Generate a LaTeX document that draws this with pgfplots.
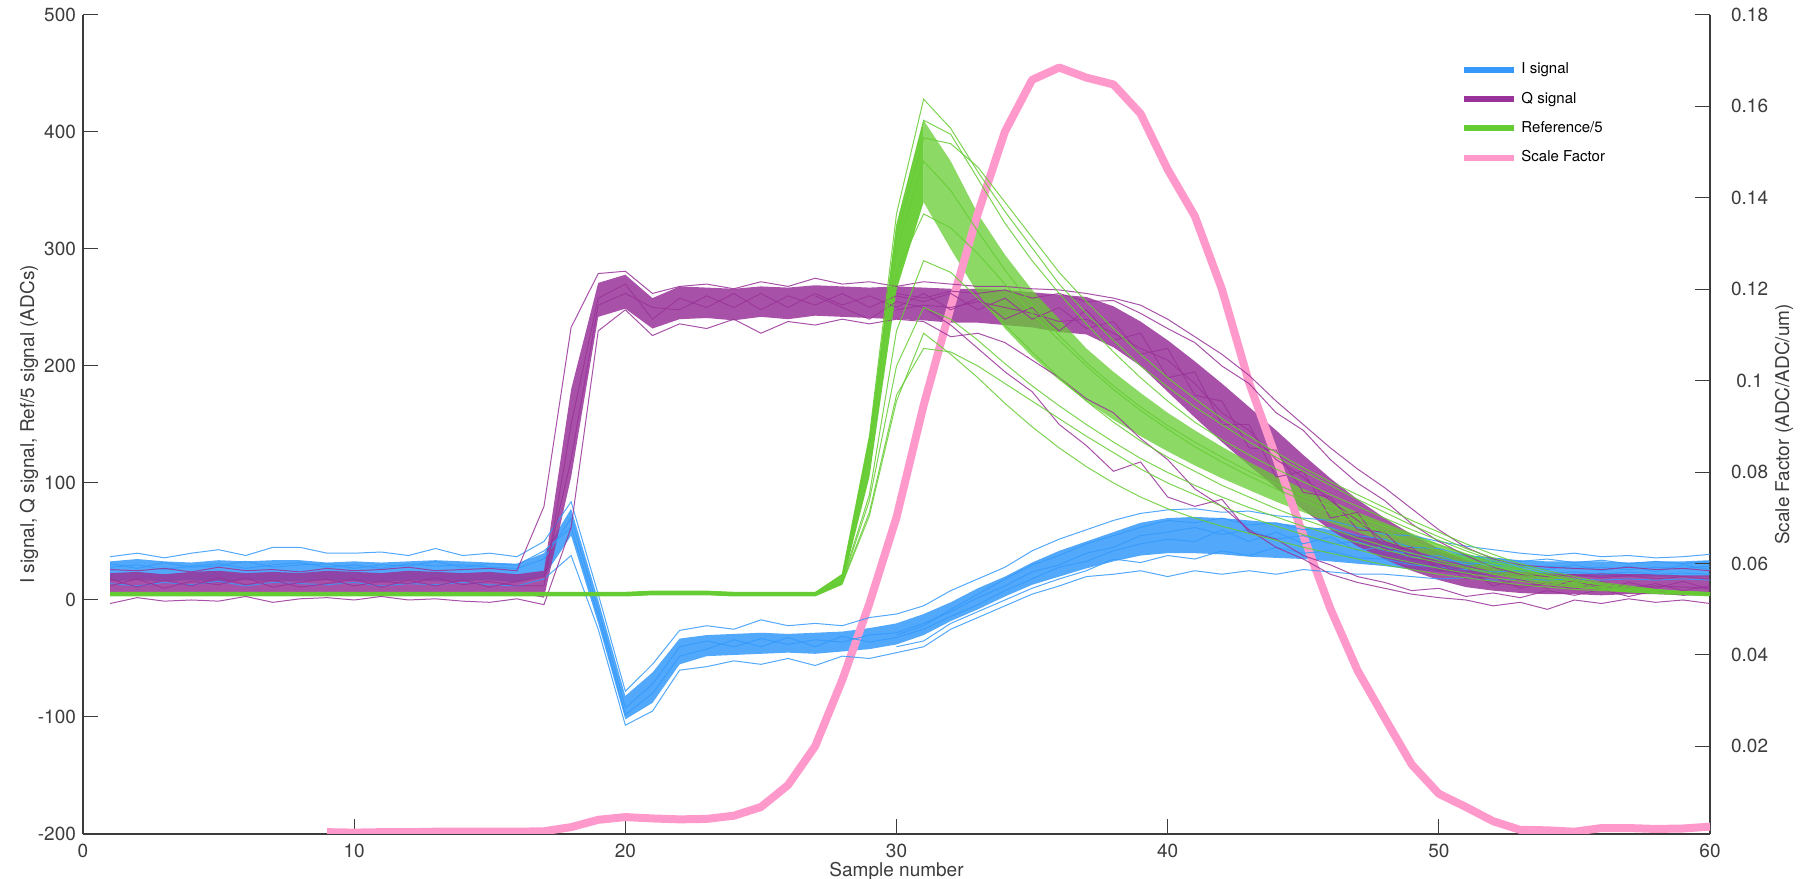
\documentclass[border=0pt]{standalone}
\usepackage{fontspec}
\setmainfont{TeX Gyre Heros}
\usepackage{pgfplots}
\usepackage{pgfplotstable}
\pgfplotsset{compat=1.18}
\usepgfplotslibrary{fillbetween}
\definecolor{Iblue}{RGB}{52,153,250}
\definecolor{Qpurple}{RGB}{153,51,153}
\definecolor{Rgreen}{RGB}{102,204,51}
\definecolor{Spink}{RGB}{255,153,204}
\definecolor{axgray}{RGB}{60,60,60}

\pgfplotstableread{
x lo hi a b c d
1 16 33 37 14 28 31
2 17 35 40 12 30 27
3 16 33 36 15 26 32
4 17 32 40 13 29 28
5 15 34 43 16 31 29
6 17 33 38 12 27 33
7 16 34 45 15 30 28
8 16 34 45 14 32 30
9 17 32 40 13 28 31
10 16 33 40 15 30 27
11 15 32 41 12 27 30
12 17 33 38 14 31 29
13 16 34 44 13 29 33
14 16 33 38 15 30 28
15 17 32 40 13 28 31
16 15 31 37 12 27 30
17 20 40 50 18 35 42
18 55 78 84 38 70 62
19 -20 0 5 -25 -8 -14
20 -102 -82 -78 -107 -92 -98
21 -88 -62 -55 -95 -72 -80
22 -55 -33 -26 -60 -40 -48
23 -48 -30 -22 -57 -35 -42
24 -47 -29 -25 -52 -40 -34
25 -46 -28 -17 -55 -33 -40
26 -45 -29 -22 -50 -38 -32
27 -46 -28 -20 -56 -34 -40
28 -44 -27 -22 -48 -36 -31
29 -42 -24 -15 -50 -30 -36
30 -38 -20 -12 -45 -28 -32
31 -30 -12 -5 -40 -20 -25
32 -18 -2 8 -25 -10 -14
33 -8 10 18 -15 2 -4
34 3 20 28 -5 12 8
35 13 32 42 5 24 18
36 20 42 52 12 30 28
37 27 50 60 20 40 33
38 33 58 68 22 45 42
39 38 66 74 25 55 48
40 40 70 77 20 58 52
41 40 71 78 25 62 50
42 39 70 75 22 56 60
43 37 68 76 25 60 50
44 36 66 72 22 52 58
45 35 63 70 26 55 48
46 33 60 68 24 48 54
47 31 56 62 22 50 42
48 29 51 56 22 42 46
49 26 46 55 20 40 36
50 24 42 50 18 35 38
51 22 38 46 19 32 30
52 21 36 43 17 30 33
53 20 34 40 18 28 30
54 20 33 38 17 29 26
55 20 33 40 18 27 30
56 20 33 37 17 28 25
57 20 32 38 18 26 29
58 20 33 36 17 28 24
59 20 33 37 18 27 30
60 20 34 39 17 29 26
}\Idata

\pgfplotstableread{
x lo hi a b c d
1 6 23 26 -3 12 18
2 5 24 25 2 18 11
3 7 22 27 -1 10 17
4 5 24 24 0 16 12
5 6 25 28 -1 13 19
6 7 23 25 3 19 13
7 5 24 26 -2 11 17
8 6 23 24 1 15 11
9 7 25 27 2 18 14
10 6 24 25 0 12 18
11 5 23 26 3 16 11
12 7 25 28 0 14 17
13 6 24 25 1 19 12
14 6 23 26 -1 13 17
15 5 24 27 -2 16 11
16 6 22 25 1 12 16
17 2 25 80 -4 12 20
18 105 180 233 62 150 120
19 242 271 279 230 258 252
20 249 278 281 248 270 262
21 232 258 262 226 240 250
22 240 268 268 236 258 248
23 241 267 270 232 250 260
24 239 266 266 240 262 250
25 242 268 272 228 248 262
26 240 267 268 238 260 250
27 243 269 275 235 252 262
28 242 268 270 240 262 252
29 241 267 272 236 250 260
30 240 268 268 240 260 250
31 239 267 272 238 255 262
32 237 266 270 225 262 248
33 237 266 268 228 248 258
34 235 265 268 220 258 240
35 233 263 266 205 240 250
36 229 261 265 190 250 230
37 227 259 262 172 232 248
38 216 251 258 160 238 222
39 200 238 252 138 210 228
40 178 222 240 120 215 190
41 156 204 225 95 175 195
42 135 185 210 80 170 150
43 115 165 192 60 130 150
44 96 145 170 45 128 105
45 77 124 150 35 92 110
46 60 104 130 22 88 70
47 46 86 112 15 60 75
48 35 70 96 10 58 42
49 25 56 78 5 35 45
50 17 44 60 2 32 25
51 11 34 45 0 18 28
52 8 27 35 -5 20 12
53 6 24 30 -2 10 18
54 5 23 28 -8 15 10
55 5 22 27 0 9 17
56 4 23 26 -3 16 9
57 5 22 28 1 10 15
58 5 22 26 -2 14 10
59 4 21 27 0 8 16
60 4 21 25 -3 12 9
}\Qdata

\pgfplotstableread{
x lo hi a b c d e f g h i
1 3 7 6 4 5 5 6 5 5 6 4
2 3 7 6 4 5 5 6 5 5 6 4
3 3 7 6 4 5 5 6 5 5 6 4
4 3 7 6 4 5 5 6 5 5 6 4
5 3 7 6 4 5 5 6 5 5 6 4
6 3 7 6 4 5 5 6 5 5 6 4
7 3 7 6 4 5 5 6 5 5 6 4
8 3 7 6 4 5 5 6 5 5 6 4
9 3 7 6 4 5 5 6 5 5 6 4
10 3 7 6 4 5 5 6 5 5 6 4
11 3 7 6 4 5 5 6 5 5 6 4
12 3 7 6 4 5 5 6 5 5 6 4
13 3 7 6 4 5 5 6 5 5 6 4
14 3 7 6 4 5 5 6 5 5 6 4
15 3 7 6 4 5 5 6 5 5 6 4
16 3 7 6 4 5 5 6 5 5 6 4
17 3 7 6 4 5 5 6 5 5 6 4
18 3 7 6 4 5 5 6 5 5 6 4
19 3 7 6 4 5 5 6 5 5 6 4
20 3 7 6 4 5 5 6 5 5 6 4
21 4 8 7 5 6 6 7 6 6 7 5
22 4 8 7 5 6 6 7 6 6 7 5
23 4 8 7 5 6 6 7 6 6 7 5
24 3 7 6 4 5 5 6 5 5 6 4
25 3 7 6 4 5 5 6 5 5 6 4
26 3 7 6 4 5 5 6 5 5 6 4
27 3 7 6 4 5 5 6 5 5 6 4
28 13 22 22 14 15 16 20 18 17 21 15
29 105 140 140 72 75 90 130 120 110 135 85
30 265 320 330 170 175 230 310 300 280 320 200
31 340 410 428 228 215 290 395 375 330 410 250
32 300 375 403 210 212 280 390 350 318 398 240
33 262 330 366 190 200 258 370 315 296 360 222
34 232 295 332 168 185 235 340 282 270 322 202
35 208 265 301 148 170 212 310 252 245 290 183
36 188 240 270 130 155 190 280 226 222 262 166
37 170 215 245 114 140 170 255 203 200 236 150
38 154 195 222 100 126 152 232 183 180 212 135
39 140 177 200 88 112 136 210 165 162 190 121
40 127 160 182 78 100 122 190 149 146 170 109
41 115 145 165 70 90 110 172 135 131 152 98
42 104 131 150 63 80 98 155 122 118 137 88
43 94 118 135 57 71 88 140 110 106 124 79
44 84 106 122 51 63 78 126 99 95 112 71
45 75 95 110 45 56 69 113 89 85 101 63
46 66 85 98 40 49 61 101 80 75 90 56
47 58 75 86 35 43 53 90 71 66 80 49
48 50 66 75 30 37 46 79 63 58 70 43
49 43 57 64 26 32 40 68 55 50 60 37
50 36 48 54 22 27 34 58 47 42 51 32
51 30 40 44 19 23 28 48 39 35 42 27
52 24 33 36 16 19 23 39 32 29 34 22
53 19 27 29 13 16 19 31 26 23 27 18
54 15 22 23 11 13 15 25 21 18 21 14
55 12 17 18 9 11 12 20 16 14 17 11
56 9 14 14 8 9 10 15 13 11 13 9
57 7 11 11 7 7 8 12 10 9 10 7
58 5 9 9 6 6 7 9 8 7 8 6
59 4 8 7 5 5 6 7 7 6 7 5
60 3 7 6 4 4 5 6 6 5 6 4
}\Rdata

\pgfplotstableread{
x s
9 0.0012
10 0.0011
11 0.0012
12 0.0012
13 0.0013
14 0.0013
15 0.0013
16 0.0013
17 0.0014
18 0.0023
19 0.0039
20 0.0045
21 0.0042
22 0.0040
23 0.0041
24 0.0048
25 0.0067
26 0.0115
27 0.0200
28 0.0345
29 0.0512
30 0.0701
31 0.0946
32 0.1161
33 0.1366
34 0.1545
35 0.1658
36 0.1685
37 0.1663
38 0.1648
39 0.1584
40 0.1462
41 0.1360
42 0.1200
43 0.0996
44 0.0831
45 0.0661
46 0.0501
47 0.0366
48 0.0262
49 0.0160
50 0.0096
51 0.0067
52 0.0036
53 0.0017
54 0.0016
55 0.0013
56 0.0021
57 0.0021
58 0.0019
59 0.0020
60 0.0024
}\Sdata

\pgfplotsset{
  myaxis/.style={
    scale only axis, width=813.5pt, height=409.5pt,
    xmin=0, xmax=60,
    tick align=inside,
    major tick length=7.5pt,
    every tick/.style={axgray, line width=0.5pt},
    axis line style={axgray, line width=0.8pt},
    tick label style={font=\fontsize{9.5}{11}\selectfont, text=axgray},
    label style={font=\fontsize{9.5}{11}\selectfont, text=axgray},
    /pgf/number format/assume math mode=true,
  },
  tr/.style={line width=0.5pt, opacity=0.85, forget plot},
}

\begin{document}
\begin{tikzpicture}
% right axis: scale factor (drawn first, underneath)
\begin{axis}[myaxis, name=raxis,
  ymin=0.0008, ymax=0.18,
  axis x line=none, axis y line*=right,
  ytick={0.02,0.04,0.06,0.08,0.1,0.12,0.14,0.16,0.18},
  yticklabel style={/pgf/number format/fixed, /pgf/number format/precision=2, anchor=center, xshift=19.8pt},
  ylabel={Scale Factor (ADC/ADC/um)},
  ylabel style={at={(axis description cs:1.0455,0.5)}, anchor=center},
]
\addplot[Spink, line width=4pt, line join=round] table[x=x,y=s]{\Sdata};
\end{axis}
% left axis: signals
\begin{axis}[myaxis, name=laxis,
  ymin=-200, ymax=500,
  axis x line*=bottom, axis y line*=left,
  xtick={0,10,20,30,40,50,60},
  ytick={-200,-100,0,100,200,300,400,500},
  xticklabel style={yshift=-1.5pt},
  xlabel={Sample number},
  xlabel style={at={(axis description cs:0.5,-0.046)}, anchor=center},
  ylabel={I signal, Q signal, Ref/5 signal (ADCs)},
  ylabel style={at={(axis description cs:-0.0332,0.5)}, anchor=center},
  legend style={at={(0.847,0.947)}, anchor=north west, draw=none, fill=none, inner sep=0pt,
    font=\fontsize{7.5}{9}\selectfont, row sep=3.6pt, cells={anchor=west}},
  legend image code/.code={\draw[#1, line width=3pt] (0pt,0pt) -- (25pt,0pt);},
]
% I signal
\addplot[draw=none, name path=Ilo, forget plot] table[x=x,y=lo]{\Idata};
\addplot[draw=none, name path=Ihi, forget plot] table[x=x,y=hi]{\Idata};
\addplot[fill=Iblue, fill opacity=0.85, draw=none, forget plot] fill between[of=Ilo and Ihi];
\addplot[Iblue, tr] table[x=x,y=a]{\Idata};
\addplot[Iblue, tr] table[x=x,y=b]{\Idata};
\addplot[Iblue, tr] table[x=x,y=c]{\Idata};
\addplot[Iblue, tr] table[x=x,y=d]{\Idata};
\addplot[Iblue, tr] coordinates {(30,-30)(31,-22)(32,-8)(33,5)(34,18)(35,30)(36,38)(37,48)(38,55)(39,62)(40,68)(41,66)(42,70)(43,64)(44,66)(45,60)(46,62)(47,55)(48,52)(49,45)(50,44)(51,38)(52,36)(53,33)(54,35)(55,32)(56,34)(57,31)(58,33)(59,31)(60,33)};
\addplot[Iblue, tr] coordinates {(30,-40)(31,-35)(32,-20)(33,-10)(34,0)(35,10)(36,18)(37,25)(38,35)(39,32)(40,38)(41,35)(42,42)(43,38)(44,45)(45,40)(46,42)(47,36)(48,35)(49,30)(50,28)(51,26)(52,24)(53,25)(54,23)(55,24)(56,22)(57,24)(58,22)(59,23)(60,22)};
% Q signal
\addplot[draw=none, name path=Qlo, forget plot] table[x=x,y=lo]{\Qdata};
\addplot[draw=none, name path=Qhi, forget plot] table[x=x,y=hi]{\Qdata};
\addplot[fill=Qpurple, fill opacity=0.85, draw=none, forget plot] fill between[of=Qlo and Qhi];
\addplot[Qpurple, tr] table[x=x,y=a]{\Qdata};
\addplot[Qpurple, tr] table[x=x,y=b]{\Qdata};
\addplot[Qpurple, tr] table[x=x,y=c]{\Qdata};
\addplot[Qpurple, tr] table[x=x,y=d]{\Qdata};
\addplot[Qpurple, tr] coordinates {(27,260)(28,250)(29,240)(30,255)(31,250)(32,235)(33,215)(34,195)(35,178)(36,150)(37,132)(38,110)(39,118)(40,88)(41,80)(42,86)(43,58)(44,52)(45,38)(46,30)(47,20)(48,15)(49,8)(50,10)(51,3)(52,6)(53,2)(54,8)(55,4)(56,9)(57,3)(58,8)(59,4)(60,7)};
\addplot[Qpurple, tr] coordinates {(30,262)(31,258)(32,264)(33,262)(34,265)(35,258)(36,262)(37,255)(38,256)(39,245)(40,232)(41,220)(42,200)(43,185)(44,160)(45,145)(46,120)(47,100)(48,85)(49,65)(50,50)(51,38)(52,28)(53,22)(54,20)(55,22)(56,19)(57,21)(58,18)(59,20)(60,18)};
\addplot[Qpurple, tr] coordinates {(30,248)(31,252)(32,250)(33,255)(34,250)(35,245)(36,238)(37,240)(38,228)(39,215)(40,205)(41,185)(42,160)(43,145)(44,120)(45,105)(46,85)(47,68)(48,50)(49,42)(50,28)(51,22)(52,15)(53,12)(54,14)(55,11)(56,13)(57,10)(58,12)(59,11)(60,10)};
% Reference/5
\addplot[draw=none, name path=Rlo, forget plot] table[x=x,y=lo]{\Rdata};
\addplot[draw=none, name path=Rhi, forget plot] table[x=x,y=hi]{\Rdata};
\addplot[fill=Rgreen, fill opacity=0.95, draw=none, forget plot] fill between[of=Rlo and Rhi, soft clip={domain=1:31}];
\addplot[fill=Rgreen, fill opacity=0.75, draw=none, forget plot] fill between[of=Rlo and Rhi, soft clip={domain=31:60}];
\addplot[Rgreen, tr] table[x=x,y=a]{\Rdata};
\addplot[Rgreen, tr] table[x=x,y=b]{\Rdata};
\addplot[Rgreen, tr] table[x=x,y=c]{\Rdata};
\addplot[Rgreen, tr] table[x=x,y=d]{\Rdata};
\addplot[Rgreen, tr] table[x=x,y=e]{\Rdata};
\addplot[Rgreen, tr] table[x=x,y=f]{\Rdata};
\addplot[Rgreen, tr] table[x=x,y=g]{\Rdata};
\addplot[Rgreen, tr] table[x=x,y=h]{\Rdata};
\addplot[Rgreen, tr] table[x=x,y=i]{\Rdata};
% legend
\addlegendimage{Iblue}
\addlegendentry{I signal}
\addlegendimage{Qpurple}
\addlegendentry{Q signal}
\addlegendimage{Rgreen}
\addlegendentry{Reference/5}
\addlegendimage{Spink}
\addlegendentry{Scale Factor}
\end{axis}
\pgfresetboundingbox
\path ([shift={(-41.5pt,-22.5pt)}]laxis.south west) rectangle ([shift={(51pt,7.5pt)}]laxis.north east);
\end{tikzpicture}
\end{document}
